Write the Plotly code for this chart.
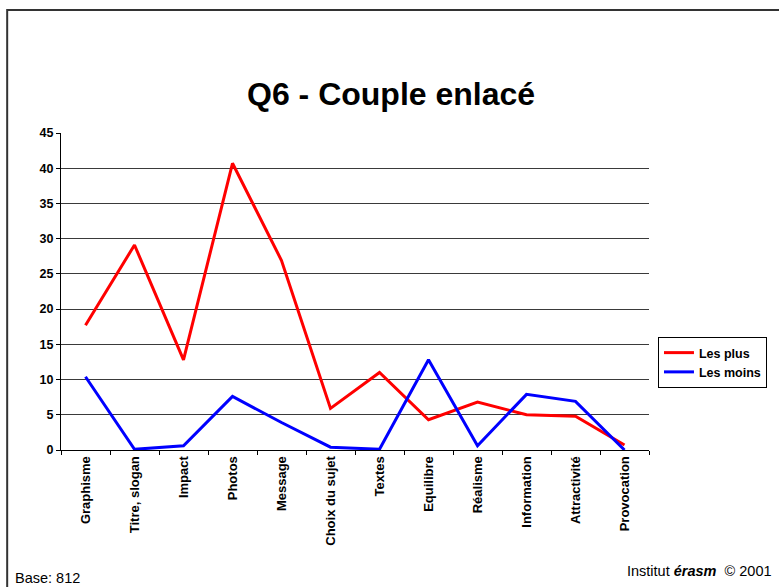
import plotly.graph_objects as go

categories = ["Graphisme", "Titre, slogan", "Impact", "Photos", "Message", "Choix du sujet",
              "Textes", "Equilibre", "Réalisme", "Information", "Attractivité", "Provocation"]
les_plus = [17.7, 29.1, 12.8, 40.7, 26.9, 5.9, 11.0, 4.3, 6.8, 5.0, 4.8, 0.7]
les_moins = [10.4, 0.1, 0.6, 7.6, 3.9, 0.4, 0.1, 12.8, 0.6, 7.9, 6.9, 0.0]
y_ticks = [0, 5, 10, 15, 20, 25, 30, 35, 40, 45]

W, H = 779, 587
L, R, T, B = 61, 651, 133, 450

fig = go.Figure()
fig.add_trace(go.Scatter(x=categories, y=les_plus, mode="lines", name="Les plus",
                         line=dict(color="#ff0000", width=3)))
fig.add_trace(go.Scatter(x=categories, y=les_moins, mode="lines", name="Les moins",
                         line=dict(color="#0000ff", width=3)))

font_family = "Liberation Sans, Arial, sans-serif"
fs = 12.5

fig.update_layout(
    width=W, height=H,
    margin=dict(l=L, r=W - R, t=T, b=H - B),
    paper_bgcolor="white", plot_bgcolor="white",
    font=dict(family=font_family, color="black"),
    showlegend=True,
    legend=dict(x=(660 - L) / (R - L), y=1 - (337 - T) / (B - T), xanchor="left", yanchor="top",
                bordercolor="black", borderwidth=1, bgcolor="white",
                font=dict(size=12.5, family=font_family, weight="bold"),
                itemwidth=30, tracegroupgap=0),
    xaxis=dict(type="category", range=[-0.5, 11.5], tickson="boundaries",
               ticks="outside", ticklen=4, tickcolor="black", showgrid=False,
               showline=True, linecolor="black", linewidth=1,
               tickangle=-90, tickfont=dict(size=13, family=font_family, weight="bold")),
    yaxis=dict(range=[0, 45], tickvals=y_ticks, ticks="outside", ticklen=4, tickcolor="black",
               showgrid=True, gridcolor="#3a3a3a", gridwidth=1,
               showline=True, linecolor="black", linewidth=1, zeroline=False,
               tickfont=dict(size=fs, family=font_family, weight="bold")),
)

fig.add_shape(type="rect", xref="paper", yref="paper",
              x0=(7 - L) / (R - L), x1=(800 - L) / (R - L),
              y0=1 - (620 - T) / (B - T), y1=1 + (T - 10) / (B - T),
              line=dict(color="#333333", width=2), fillcolor="rgba(0,0,0,0)", layer="below")

fig.add_annotation(text="<b>Q6 - Couple enlacé</b>", xref="paper", yref="paper",
                   x=(392 - L) / (R - L), y=1 + (T - 94) / (B - T),
                   xanchor="center", yanchor="middle", showarrow=False,
                   font=dict(size=32, family=font_family, color="black"))
fig.add_annotation(text="Base: 812", xref="paper", yref="paper",
                   x=(13 - L) / (R - L), y=-(578 - B) / (B - T),
                   xanchor="left", yanchor="middle", showarrow=False,
                   font=dict(size=14.5, family=font_family, color="black"))
fig.add_annotation(text="Institut <b><i>érasm</i></b>  © 2001", xref="paper", yref="paper",
                   x=(776 - L) / (R - L), y=-(571 - B) / (B - T),
                   xanchor="right", yanchor="middle", showarrow=False,
                   font=dict(size=14.5, family=font_family, color="black"))

fig.write_html("out.html", config={"displayModeBar": False},
               post_script="document.body.style.margin='0';document.body.style.overflow='hidden';")
